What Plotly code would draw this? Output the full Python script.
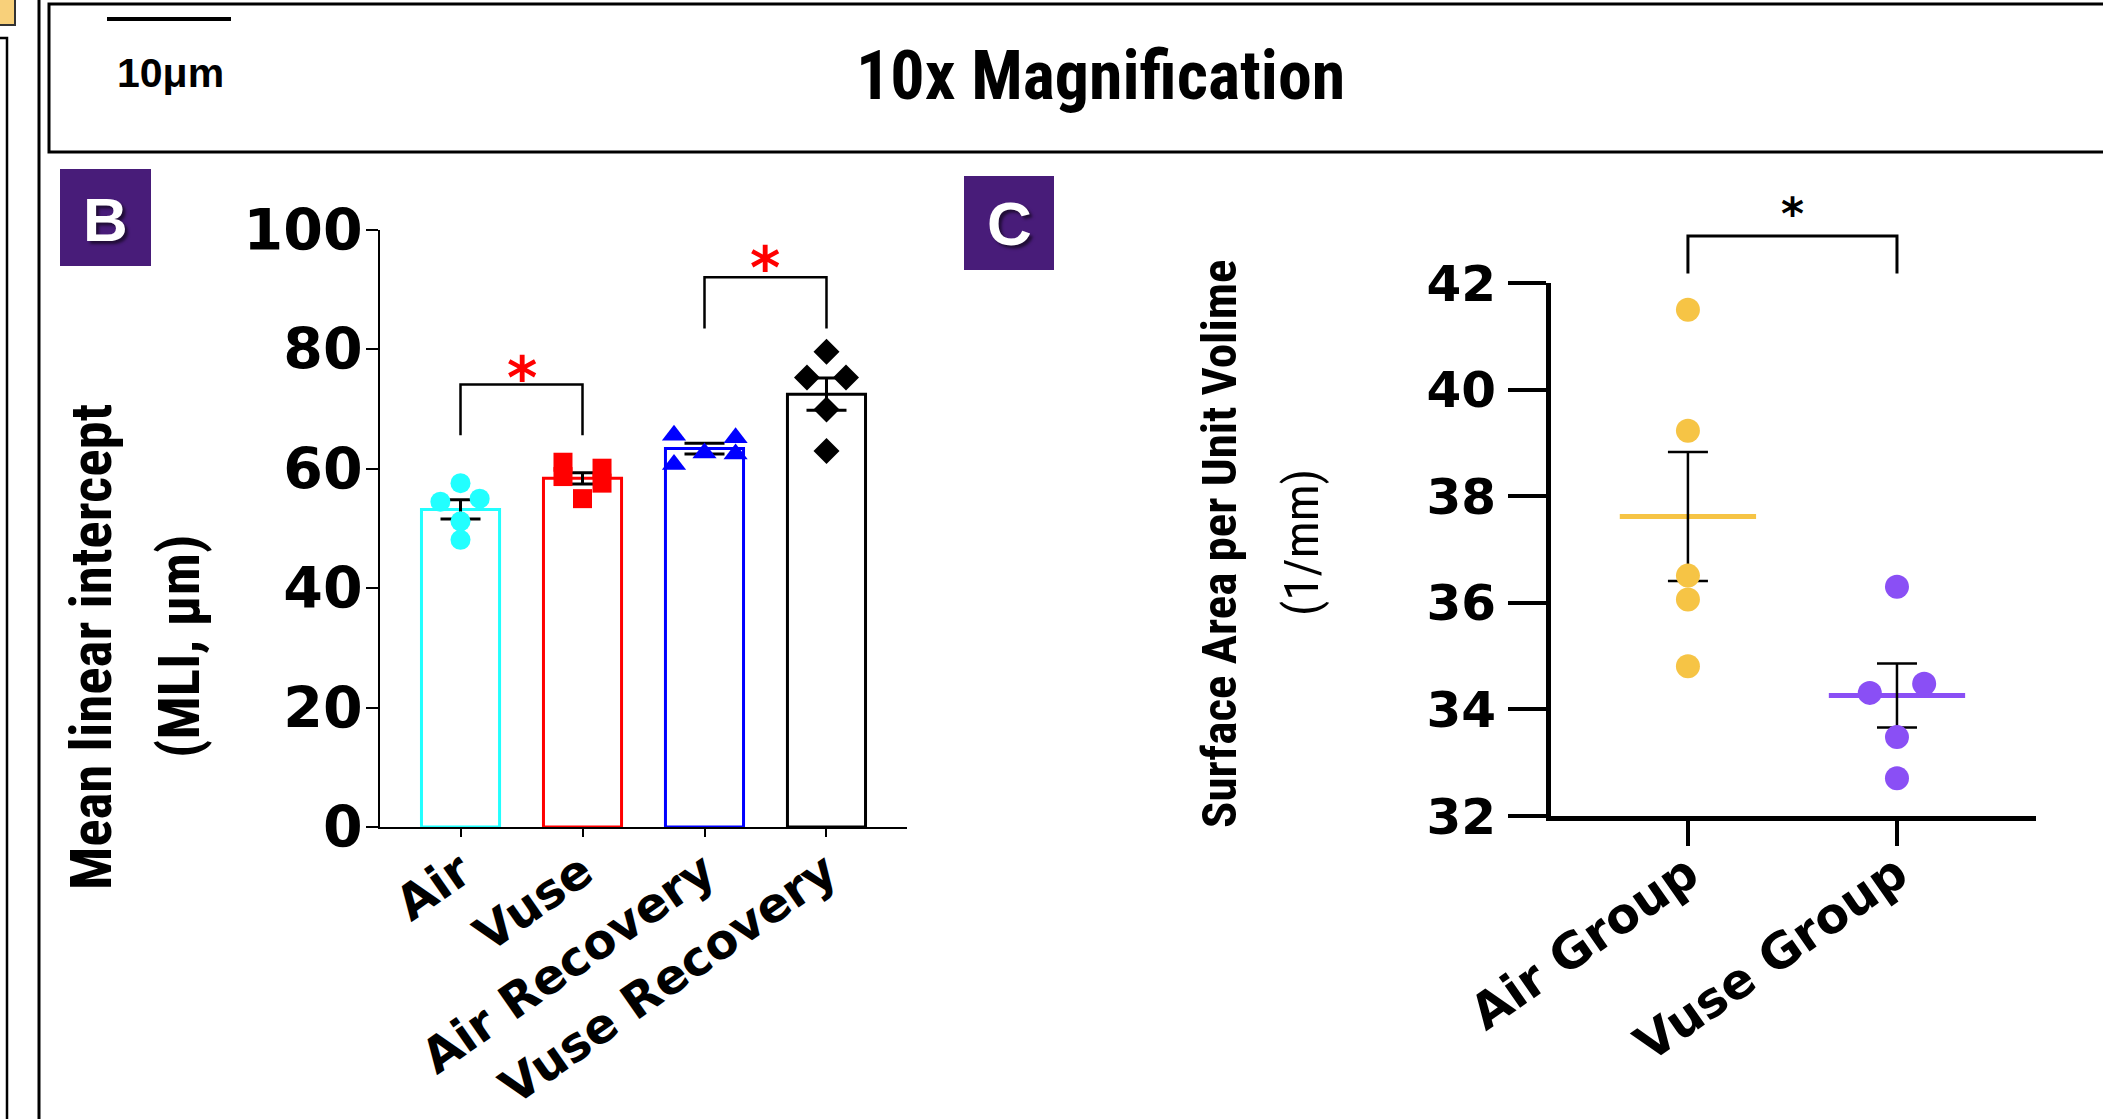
import plotly.graph_objects as go

W, H = 2103, 1119
OFF = 0

# ---------------- Panel B data ----------------
b_categories = ["Air", "Vuse", "Air Recovery", "Vuse Recovery"]
b_means = [53.2, 58.4, 63.4, 72.5]
b_sem = [1.6, 0.95, 0.9, 2.7]
b_air = [57.6, 54.5, 55.0, 51.2, 48.1]
b_vuse = [61.1, 58.7, 60.1, 57.6, 55.0]
b_air_rec = [65.6, 65.2, 60.7, 62.65, 62.5]
b_vuse_rec = [79.6, 75.3, 75.3, 69.95, 63.0]
b_yticks = [0, 20, 40, 60, 80, 100]
b_sig_pairs = [(0, 1), (2, 3)]
b_sig_top = [74.1, 92.1]
b_sig_leg = [65.6, 83.5]
b_sig_star = [77.3, 95.7]

# ---------------- Panel C data ----------------
c_categories = ["Air Group", "Vuse Group"]
c_air = [41.50, 39.23, 36.51, 36.06, 34.81]
c_vuse = [36.30, 34.48, 34.31, 33.48, 32.71]
c_means = [37.62, 34.26]
c_sem = [1.21, 0.60]
c_yticks = [32, 34, 36, 38, 40, 42]
c_sig_top = 42.88
c_sig_leg = 42.18
c_sig_star = 43.47

# ---------------- styling ----------------
b_colors = ["#22FFFF", "#FF0000", "#0000FF", "#000000"]
b_symbols = ["circle", "square", "triangle-up", "diamond"]
b_sizes = [20, 19, 21, 20]
b_jitter = [
    [0, -0.165, 0.157, 0, 0],
    [-0.16, -0.16, 0.16, 0.16, 0],
    [-0.25, 0.255, -0.25, 0, 0.255],
    [0, -0.16, 0.16, 0, 0],
]
c_colors = ["#F6C445", "#8A4FF5"]
c_jitter = [[0, 0, 0, 0, 0], [0, 0.13, -0.13, 0, 0]]
purple = "#481C79"

NARROW = "Roboto Condensed, Open Sans Condensed, DejaVu Sans Condensed, sans-serif"
WIDE = "DejaVu Sans"


def fx(p):
    return (p - OFF) / W


def fy(p):
    return 1 - (p - OFF) / H


fig = go.Figure()

# ---- Panel B bars ----
fig.add_trace(go.Bar(
    x=list(range(len(b_categories))), y=b_means, width=0.64,
    marker=dict(color="rgba(0,0,0,0)", line=dict(color=b_colors, width=3)),
    error_y=dict(type="data", array=b_sem, color="black", thickness=3, width=20),
    xaxis="x", yaxis="y", showlegend=False, hoverinfo="skip",
))
for i, vals in enumerate([b_air, b_vuse, b_air_rec, b_vuse_rec]):
    fig.add_trace(go.Scatter(
        x=[i + j for j in b_jitter[i]], y=vals, mode="markers",
        marker=dict(symbol=b_symbols[i], color=b_colors[i], size=b_sizes[i], line=dict(width=0)),
        xaxis="x", yaxis="y", showlegend=False, cliponaxis=False,
    ))
for (a, b), top, leg in zip(b_sig_pairs, b_sig_top, b_sig_leg):
    fig.add_trace(go.Scatter(
        x=[a, a, b, b], y=[leg, top, top, leg], mode="lines",
        line=dict(color="black", width=2.5), xaxis="x", yaxis="y", showlegend=False,
    ))

# ---- Panel C ----
for i, m in enumerate(c_means):
    fig.add_trace(go.Scatter(
        x=[i - 0.326, i + 0.326], y=[m, m], mode="lines",
        line=dict(color=c_colors[i], width=5), xaxis="x2", yaxis="y2", showlegend=False,
    ))
fig.add_trace(go.Scatter(
    x=list(range(len(c_means))), y=c_means, mode="markers",
    marker=dict(size=1, opacity=0),
    error_y=dict(type="data", array=c_sem, color="black", thickness=2.5, width=20),
    xaxis="x2", yaxis="y2", showlegend=False,
))
for i, vals in enumerate([c_air, c_vuse]):
    fig.add_trace(go.Scatter(
        x=[i + j for j in c_jitter[i]], y=vals, mode="markers",
        marker=dict(symbol="circle", color=c_colors[i], size=24, line=dict(width=0)),
        xaxis="x2", yaxis="y2", showlegend=False, cliponaxis=False,
    ))
fig.add_trace(go.Scatter(
    x=[0, 0, 1, 1], y=[c_sig_leg, c_sig_top, c_sig_top, c_sig_leg], mode="lines",
    line=dict(color="black", width=3), xaxis="x2", yaxis="y3", showlegend=False,
))

# ---------------- axes ----------------
b_x0, b_x1 = 380, 907
b_y0, b_y100 = 827, 230
c_x0, c_x1 = 1551, 2036
c_y32, c_y42 = 816, 283
c_px = (c_y32 - c_y42) / 10.0
c_top = 43.8

fig.update_layout(
    template="none",
    width=W, height=H, margin=dict(l=0, r=0, t=0, b=0, pad=0, autoexpand=False),
    paper_bgcolor="white", plot_bgcolor="rgba(0,0,0,0)", showlegend=False,
    xaxis=dict(
        domain=[fx(b_x0), fx(b_x1)], range=[-0.66, 3.66], automargin=False,
        tickvals=list(range(len(b_categories))), ticktext=b_categories,
        tickangle=-35, showline=True, linecolor="black", linewidth=2,
        ticks="outside", ticklen=8, tickwidth=2, tickcolor="black",
        tickfont=dict(family=WIDE, size=48, color="black", weight="bold"),
        ticklabelstandoff=-12,
        showgrid=False, zeroline=False, anchor="y",
    ),
    yaxis=dict(
        domain=[fy(b_y0), fy(b_y100)], range=[0, 100], automargin=False,
        tickvals=b_yticks, showline=True, linecolor="black", linewidth=2,
        ticks="outside", ticklen=12, tickwidth=2, tickcolor="black",
        tickfont=dict(family=WIDE, size=57, color="black", weight="bold"),
        ticklabelstandoff=-8,
        showgrid=False, zeroline=False, anchor="x",
    ),
    xaxis2=dict(
        domain=[fx(c_x0), fx(c_x1)], range=[-0.655, 1.665], automargin=False,
        tickvals=list(range(len(c_categories))), ticktext=c_categories,
        tickangle=-35, showline=True, linecolor="black", linewidth=5,
        ticks="outside", ticklen=25, tickwidth=4, tickcolor="black",
        tickfont=dict(family=WIDE, size=49, color="black", weight="bold"),
        ticklabelstandoff=-20,
        showgrid=False, zeroline=False, anchor="y2",
    ),
    yaxis2=dict(
        domain=[fy(c_y32), fy(c_y42)], range=[32, 42], automargin=False,
        tickvals=c_yticks, showline=True, linecolor="black", linewidth=5,
        ticks="outside", ticklen=38, tickwidth=4, tickcolor="black",
        tickfont=dict(family=WIDE, size=50, color="black", weight="bold"),
        ticklabelstandoff=2,
        showgrid=False, zeroline=False, anchor="x2",
    ),
    yaxis3=dict(
        domain=[fy(c_y32), fy(c_y32 - (c_top - 32) * c_px)],
        range=[32, c_top], visible=False, anchor="x2", automargin=False,
        showgrid=False, zeroline=False,
    ),
)

# ---------------- decorations ----------------
shapes = []
shapes.append(dict(type="rect", xref="paper", yref="paper",
                   x0=fx(49), x1=fx(2125), y0=fy(152), y1=fy(4),
                   line=dict(color="black", width=3), fillcolor="rgba(0,0,0,0)"))
shapes.append(dict(type="line", xref="paper", yref="paper",
                   x0=fx(107), x1=fx(231), y0=fy(19), y1=fy(19),
                   line=dict(color="black", width=4)))
shapes.append(dict(type="line", xref="paper", yref="paper",
                   x0=fx(39), x1=fx(39), y0=0, y1=fy(-20), line=dict(color="black", width=3)))
shapes.append(dict(type="path", xref="paper", yref="paper",
                   path=f"M {fx(-10)} {fy(38)} L {fx(7)} {fy(38)} L {fx(7)} 0",
                   line=dict(color="black", width=2.5)))
shapes.append(dict(type="rect", xref="paper", yref="paper",
                   x0=fx(-10), x1=fx(15), y0=fy(25), y1=fy(-10),
                   line=dict(color="#333333", width=2), fillcolor="#F8D07A"))
shapes.append(dict(type="rect", xref="paper", yref="paper",
                   x0=fx(60), x1=fx(151), y0=fy(266), y1=fy(169),
                   line=dict(width=0), fillcolor=purple))
shapes.append(dict(type="rect", xref="paper", yref="paper",
                   x0=fx(964), x1=fx(1054), y0=fy(270), y1=fy(176),
                   line=dict(width=0), fillcolor=purple))
fig.update_layout(shapes=shapes)

ann = []


def px(x, y, text, size, family, color="black", angle=0, **kw):
    ann.append(dict(xref="paper", yref="paper", x=fx(x), y=fy(y), text=text,
                    showarrow=False, xanchor="center", yanchor="middle", textangle=angle,
                    font=dict(family=family, size=size, color=color), **kw))


px(170, 73, "<b>10μm</b>", 41, "Liberation Sans")
px(1100, 76, "<b>10x Magnification</b>", 68, NARROW)
shadow = "3px 3px 3px rgba(0,0,0,0.55)"
px(105, 219, "<b>B</b>", 62, "Liberation Sans", color="white")
ann[-1]["font"]["shadow"] = shadow
px(1009, 224, "<b>C</b>", 62, "Liberation Sans", color="white")
ann[-1]["font"]["shadow"] = shadow
px(91, 647, "<b>Mean linear intercept</b>", 57, NARROW, angle=-90)
px(179, 647, "<b>(MLI, μm)</b>", 57, NARROW, angle=-90)
px(1219, 544, "<b>Surface Area per Unit Volime</b>", 49, NARROW, angle=-90)
px(1301, 543, "(1/mm)", 49, NARROW, angle=-90)

for (a, b), sy in zip(b_sig_pairs, b_sig_star):
    ann.append(dict(xref="x", yref="y", x=(a + b) / 2, y=sy, text="<b>*</b>",
                    showarrow=False, xanchor="center", yanchor="middle", yshift=-12,
                    font=dict(family=WIDE, size=58, color="#FF0000")))
ann.append(dict(xref="x2", yref="y3", x=0.5, y=c_sig_star, text="<b>*</b>",
                showarrow=False, xanchor="center", yanchor="middle", yshift=-9,
                font=dict(family=WIDE, size=44, color="black")))
fig.update_layout(annotations=ann)

fig.write_html("out.html", config={"displayModeBar": False},
               post_script="document.body.style.margin='0px';")
